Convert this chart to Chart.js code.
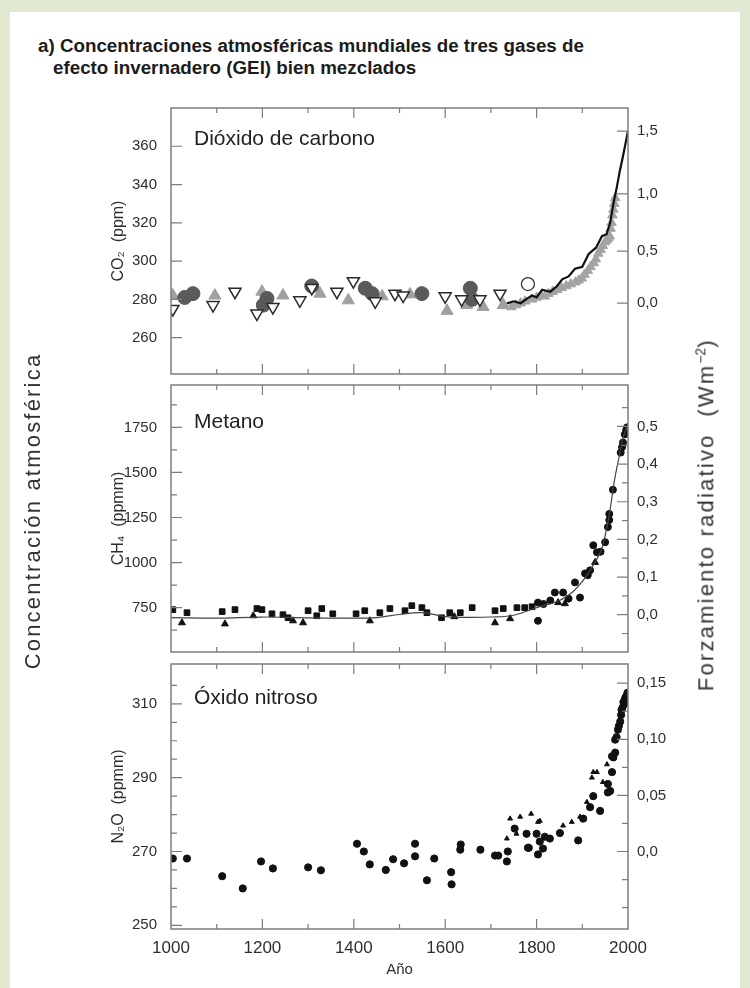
<!DOCTYPE html>
<html lang="es">
<head>
<meta charset="utf-8">
<title>Concentraciones atmosféricas mundiales de GEI</title>
<script src="https://cdn.jsdelivr.net/npm/chart.js@4.4.1/dist/chart.umd.min.js"></script>
<style>
  html, body { margin: 0; padding: 0; }
  body {
    width: 750px; height: 988px; position: relative; overflow: hidden;
    background: #e2e9d3;
    font-family: "Liberation Sans", Arial, sans-serif;
  }
  #sheet { position: absolute; left: 10px; top: 12px; width: 730px; height: 976px; background: #fff; }
  .title {
    position: absolute; left: 38px; top: 35px;
    font-weight: bold; font-size: 18.8px; line-height: 22px; color: #1c1c1c;
  }
  .title span { display: block; }
  .title span + span { padding-left: 15px; }
  canvas { position: absolute; left: 0; }
  .side {
    position: absolute; width: 420px; text-align: center;
    font-size: 22px; color: #333; white-space: nowrap; letter-spacing: 2.2px;
    transform: rotate(-90deg); transform-origin: center center;
  }
  .side sup { font-size: 14px; letter-spacing: 0; }
</style>
</head>
<body>
<div id="sheet"></div>
<div class="title">
  <span>a) Concentraciones atmosféricas mundiales de tres gases de</span>
  <span>efecto invernadero (GEI) bien mezclados</span>
</div>
<canvas id="co2Chart" width="750" height="312" style="top:85px"></canvas>
<canvas id="ch4Chart" width="750" height="313" style="top:362px"></canvas>
<canvas id="n2oChart" width="750" height="347" style="top:641px"></canvas>
<div class="side" style="left:-177px; top:498px;">Concentración atmosférica</div>
<div class="side" style="left:496px; top:501px;">Forzamiento radiativo&nbsp; (Wm<sup>−2</sup>)</div>

<script>
// Shared x axis
const yearTicks = [1000, 1200, 1400, 1600, 1800, 2000];
const yearMinorTicks = [1100, 1300, 1500, 1700, 1900];

// ---- Dióxido de carbono (ppm) ----
const co2Ticks = [260, 280, 300, 320, 340, 360];
const co2ForcingTicks = [0.0, 0.5, 1.0, 1.5];
const co2ForcingLabels = ['0,0', '0,5', '1,0', '1,5'];

const co2OpenTriYears = [1004, 1092, 1140, 1188, 1223, 1282, 1308, 1363, 1399, 1447, 1490, 1508, 1600, 1636, 1676, 1720];
const co2OpenTriValues = [275, 277, 284, 272.6, 276, 279.5, 286, 284, 289.5, 279, 283, 282, 281.6, 280, 280, 283];

const co2GreyTriYears = [1004, 1096, 1199, 1245, 1326, 1388, 1462, 1523, 1604, 1647, 1683, 1727];
const co2GreyTriValues = [282, 282, 284, 282, 283, 279.5, 281.6, 282.6, 274, 277, 276, 277];

const co2CircleYears = [1030, 1048, 1202, 1210, 1308, 1425, 1440, 1549, 1655, 1659];
const co2CircleValues = [281, 283, 277, 280.5, 287, 285.8, 283, 283, 285.8, 280];

const co2OpenCircleYears = [1781];
const co2OpenCircleValues = [288];

const co2DenseYears = [1745, 1755, 1765, 1775, 1790, 1800, 1810, 1818, 1826, 1835, 1845, 1855, 1865, 1875, 1885, 1892, 1899, 1905, 1912, 1918, 1925, 1930, 1935, 1940, 1945, 1950, 1954, 1957, 1960, 1962, 1964, 1966, 1968, 1970, 1972];
const co2DenseValues = [276, 277, 278, 279, 280, 281, 282, 281.6, 283, 284, 285, 286, 287, 288, 289, 290, 291, 293, 295, 297, 299, 301, 304, 306, 308, 310, 311, 312, 313, 317, 320, 324, 327, 330, 333];

const co2LineYears = [1735, 1750, 1765, 1780, 1790, 1800, 1812, 1830, 1845, 1856, 1870, 1884, 1900, 1914, 1930, 1943, 1953, 1961, 1968, 1975, 1982, 1990, 2000];
const co2LineValues = [277.9, 279, 278, 280.5, 282, 281, 285, 284, 287, 290.5, 292, 296, 297, 303.7, 307, 313, 314, 320, 330, 338, 347, 356, 368];

// ---- Metano (ppmm) ----
const ch4Ticks = [750, 1000, 1250, 1500, 1750];
const ch4MinorTicks = [625, 875, 1125, 1375, 1625, 1875];
const ch4ForcingTicks = [0.0, 0.1, 0.2, 0.3, 0.4, 0.5];
const ch4ForcingLabels = ['0,0', '0,1', '0,2', '0,3', '0,4', '0,5'];
const ch4ForcingMinor = [-0.05, 0.05, 0.15, 0.25, 0.35, 0.45, 0.55];

const ch4SquareYears = [1004, 1035, 1112, 1140, 1188, 1199, 1221, 1245, 1256, 1300, 1319, 1330, 1354, 1405, 1424, 1457, 1479, 1512, 1527, 1549, 1560, 1592, 1610, 1633, 1659, 1709, 1727, 1757, 1774, 1790];
const ch4SquareValues = [739, 722, 728, 739, 745, 739, 716, 711, 694, 733, 705, 745, 716, 716, 733, 722, 745, 733, 761, 750, 722, 694, 722, 722, 750, 733, 745, 750, 750, 755];

const ch4TriYears = [1024, 1118, 1180, 1267, 1289, 1435, 1620, 1709, 1742, 1847, 1862, 1928];
const ch4TriValues = [666, 660, 705, 677, 666, 677, 700, 666, 689, 778, 772, 1001];

const ch4CircleYears = [1803, 1803, 1815, 1830, 1840, 1858, 1870, 1884, 1895, 1906, 1912, 1917, 1924, 1932, 1940, 1950, 1956, 1959, 1959, 1967, 1984, 1987, 1989, 1993, 1996, 1998];
const ch4CircleValues = [778, 677, 770, 790, 834, 834, 800, 890, 806, 940, 930, 957, 1096, 1057, 1060, 1113, 1197, 1236, 1270, 1404, 1610, 1640, 1666, 1711, 1735, 1750];

const ch4LineYears = [1000, 1100, 1200, 1300, 1400, 1450, 1500, 1550, 1600, 1650, 1700, 1750, 1800, 1850, 1880, 1900, 1920, 1940, 1950, 1960, 1970, 1980, 1990, 2000];
const ch4LineValues = [695, 692, 698, 693, 692, 695, 712, 722, 700, 696, 698, 708, 750, 790, 840, 895, 970, 1060, 1150, 1280, 1450, 1580, 1700, 1760];

// ---- Óxido nitroso (ppmm) ----
const n2oTicks = [250, 270, 290, 310];
const n2oMinorTicks = [255, 260, 265, 275, 280, 285, 295, 300, 305, 315];
const n2oForcingTicks = [0.0, 0.05, 0.10, 0.15];
const n2oForcingLabels = ['0,0', '0,05', '0,10', '0,15'];
const n2oForcingMinor = [-0.075, -0.05, -0.025, 0.025, 0.075, 0.125];

const n2oDotYears = [1004, 1035, 1112, 1157, 1197, 1223, 1300, 1328, 1407, 1422, 1435, 1470, 1486, 1510, 1534, 1534, 1560, 1576, 1613, 1614, 1634, 1633, 1677, 1709, 1716, 1735, 1737, 1752, 1778, 1781, 1783, 1800, 1803, 1807, 1814, 1818, 1829, 1851, 1891, 1902, 1917, 1924, 1939, 1956, 1956, 1961, 1965, 1965, 1968, 1972, 1972, 1975, 1978, 1980, 1983, 1985, 1986, 1988, 1990, 1992, 1994, 1995, 1996, 1998, 1999];
const n2oDotValues = [268.1, 268.1, 263.3, 260, 267.3, 265.4, 265.7, 264.9, 272.1, 270, 266.5, 265, 267.9, 266.8, 272.1, 268.7, 262.2, 268.1, 264.4, 261.1, 271.9, 270.5, 270.5, 268.9, 268.9, 267.3, 270, 276.2, 274.8, 271, 271, 274.8, 269.2, 272.7, 270.8, 274, 273.5, 275, 273, 278.9, 282, 285, 281, 286, 288.3, 286.4, 291.5, 295.8, 295.5, 296.8, 300.3, 301, 303, 304, 305.2, 307, 308.4, 309, 310.5, 310, 311.6, 311.6, 312, 312.4, 313];

const n2oTriYears = [1735, 1742, 1756, 1764, 1788, 1803, 1807, 1858, 1877, 1895, 1910, 1921, 1924, 1932, 1945, 1954];
const n2oTriValues = [273.5, 278.9, 274.8, 279.4, 280.2, 278, 278.3, 277, 278, 279.4, 283.4, 290, 291.5, 291.5, 288.8, 293.6];

// Forcing -> concentration, so the right axes can share the left scale
const co2FromForcing = f => 278 * Math.exp(f / 5.35);
const ch4FromForcing = f => 711 + f * 2088;
const n2oFromForcing = f => 270 + f * 304;

const FONT = '"Liberation Sans", "DejaVu Sans", Arial, sans-serif';
const TEXT = '#2e2e2e';

function pts(xs, ys) {
    return xs.map((x, i) => ({ x: x, y: ys[i] }));
}

// Frame, inward tick marks and panel name
const panelFrame = {
    id: 'panelFrame',
    afterDatasetsDraw(chart, args, opts) {
        const { ctx, chartArea: a, scales } = chart;
        ctx.save();
        ctx.strokeStyle = '#7d7d7d';
        ctx.lineWidth = 1.5;
        ctx.strokeRect(a.left, a.top, a.right - a.left, a.bottom - a.top);

        ctx.lineWidth = 1.2;
        ctx.beginPath();
        const xTick = (v, len) => {
            const px = scales.x.getPixelForValue(v);
            ctx.moveTo(px, a.bottom); ctx.lineTo(px, a.bottom - len);
            ctx.moveTo(px, a.top); ctx.lineTo(px, a.top + len);
        };
        yearTicks.slice(1, -1).forEach(v => xTick(v, 10));
        yearMinorTicks.forEach(v => xTick(v, 5));

        const yTick = (v, len, side) => {
            const py = scales.y.getPixelForValue(v);
            if (py <= a.top + 1 || py >= a.bottom - 1) return;
            if (side === 'left') { ctx.moveTo(a.left, py); ctx.lineTo(a.left + len, py); }
            else { ctx.moveTo(a.right, py); ctx.lineTo(a.right - len, py); }
        };
        opts.leftMajor.forEach(v => yTick(v, 11, 'left'));
        opts.leftMinor.forEach(v => yTick(v, 6, 'left'));
        opts.rightMajor.forEach(v => yTick(v, 11, 'right'));
        opts.rightMinor.forEach(v => yTick(v, 6, 'right'));
        ctx.stroke();

        ctx.fillStyle = '#222';
        ctx.font = '21px ' + FONT;
        ctx.textBaseline = 'alphabetic';
        ctx.fillText(opts.label, a.left + 23, a.top + opts.labelY);
        ctx.restore();
    }
};

function buildPanel(canvasId, cfg) {
    const last = cfg.showYears;
    return new Chart(document.getElementById(canvasId), {
        type: 'scatter',
        data: { datasets: cfg.datasets },
        options: {
            responsive: false,
            animation: false,
            layout: { autoPadding: false, padding: { top: 10, bottom: last ? 0 : 10, left: 0, right: 0 } },
            plugins: {
                legend: { display: false },
                tooltip: { enabled: false },
                panelFrame: cfg.frame
            },
            scales: {
                x: {
                    type: 'linear',
                    min: 1000,
                    max: 2000,
                    display: last,
                    grid: { display: false, drawTicks: false, tickLength: 0 },
                    border: { display: false },
                    afterBuildTicks: s => { s.ticks = yearTicks.map(v => ({ value: v })); },
                    ticks: {
                        autoSkip: false, maxRotation: 0, padding: 9,
                        color: TEXT, font: { family: FONT, size: 17 },
                        callback: v => String(v)
                    },
                    title: {
                        display: true, text: 'Año', color: TEXT,
                        font: { family: FONT, size: 15 }, padding: { top: 0, bottom: 9 }
                    },
                    afterFit: s => { s.height = last ? 59 : 0; }
                },
                y: {
                    type: 'linear',
                    position: 'left',
                    min: cfg.yMin,
                    max: cfg.yMax,
                    grid: { display: false, drawTicks: false, tickLength: 0 },
                    border: { display: false },
                    afterBuildTicks: s => { s.ticks = cfg.leftTicks.map(v => ({ value: v })); },
                    ticks: {
                        padding: 14, color: TEXT, font: { family: FONT, size: 15 },
                        callback: v => String(v)
                    },
                    title: {
                        display: true, text: cfg.yTitle, color: TEXT,
                        font: { family: FONT, size: 16 }, padding: { top: 109, bottom: 0 }
                    },
                    afterFit: s => { s.width = 171; }
                },
                y2: {
                    type: 'linear',
                    position: 'right',
                    min: cfg.yMin,
                    max: cfg.yMax,
                    grid: { display: false, drawTicks: false, tickLength: 0 },
                    border: { display: false },
                    afterBuildTicks: s => { s.ticks = cfg.rightTicks.map(v => ({ value: v })); },
                    ticks: {
                        padding: 9, color: TEXT, font: { family: FONT, size: 15 },
                        callback: (v, i) => cfg.rightLabels[i]
                    },
                    afterFit: s => { s.width = 122; }
                }
            }
        },
        plugins: [panelFrame]
    });
}

// CO2 panel
buildPanel('co2Chart', {
    yMin: 241, yMax: 380,
    leftTicks: co2Ticks,
    rightTicks: co2ForcingTicks.map(co2FromForcing),
    rightLabels: co2ForcingLabels,
    yTitle: 'CO₂  (ppm)',
    showYears: false,
    frame: {
        label: 'Dióxido de carbono', labelY: 37,
        leftMajor: co2Ticks, leftMinor: [],
        rightMajor: co2ForcingTicks.map(co2FromForcing), rightMinor: []
    },
    datasets: [
        { data: pts(co2LineYears, co2LineValues), showLine: true, borderColor: '#111', borderWidth: 2.2, pointRadius: 0 },
        { data: pts(co2OpenCircleYears, co2OpenCircleValues), pointStyle: 'circle', pointRadius: 6.5, backgroundColor: 'rgba(255,255,255,0)', borderColor: '#333', borderWidth: 1.3 },
        { data: pts(co2DenseYears, co2DenseValues), pointStyle: 'triangle', pointRadius: 5.5, backgroundColor: '#a3a3a3', borderColor: '#a3a3a3', borderWidth: 1 },
        { data: pts(co2OpenTriYears, co2OpenTriValues), pointStyle: 'triangle', rotation: 180, pointRadius: 7, backgroundColor: '#fff', borderColor: '#2a2a2a', borderWidth: 1.5 },
        { data: pts(co2CircleYears, co2CircleValues), pointStyle: 'circle', pointRadius: 7, backgroundColor: '#5a5a5a', borderColor: '#5a5a5a', borderWidth: 1 },
        { data: pts(co2GreyTriYears, co2GreyTriValues), pointStyle: 'triangle', pointRadius: 7, backgroundColor: '#a0a0a0', borderColor: '#a0a0a0', borderWidth: 1 }
    ]
});

// CH4 panel
buildPanel('ch4Chart', {
    yMin: 504, yMax: 1985,
    leftTicks: ch4Ticks,
    rightTicks: ch4ForcingTicks.map(ch4FromForcing),
    rightLabels: ch4ForcingLabels,
    yTitle: 'CH₄  (ppmm)',
    showYears: false,
    frame: {
        label: 'Metano', labelY: 43,
        leftMajor: ch4Ticks, leftMinor: ch4MinorTicks,
        rightMajor: ch4ForcingTicks.map(ch4FromForcing), rightMinor: ch4ForcingMinor.map(ch4FromForcing)
    },
    datasets: [
        { data: pts(ch4LineYears, ch4LineValues), showLine: true, tension: 0.4, borderColor: '#444', borderWidth: 1.2, pointRadius: 0 },
        { data: pts(ch4SquareYears, ch4SquareValues), pointStyle: 'rect', pointRadius: 4, backgroundColor: '#111', borderColor: '#111' },
        { data: pts(ch4TriYears, ch4TriValues), pointStyle: 'triangle', pointRadius: 4, backgroundColor: '#111', borderColor: '#111' },
        { data: pts(ch4CircleYears, ch4CircleValues), pointStyle: 'circle', pointRadius: 3.5, backgroundColor: '#111', borderColor: '#111' }
    ]
});

// N2O panel
buildPanel('n2oChart', {
    yMin: 249, yMax: 320.8,
    leftTicks: n2oTicks,
    rightTicks: n2oForcingTicks.map(n2oFromForcing),
    rightLabels: n2oForcingLabels,
    yTitle: 'N₂O  (ppmm)',
    showYears: true,
    frame: {
        label: 'Óxido nitroso', labelY: 40,
        leftMajor: n2oTicks, leftMinor: n2oMinorTicks,
        rightMajor: n2oForcingTicks.map(n2oFromForcing), rightMinor: n2oForcingMinor.map(n2oFromForcing)
    },
    datasets: [
        { data: pts(n2oDotYears, n2oDotValues), pointStyle: 'circle', pointRadius: 3.6, backgroundColor: '#111', borderColor: '#111' },
        { data: pts(n2oTriYears, n2oTriValues), pointStyle: 'triangle', pointRadius: 2.8, backgroundColor: '#111', borderColor: '#111' }
    ]
});
</script>
</body>
</html>
